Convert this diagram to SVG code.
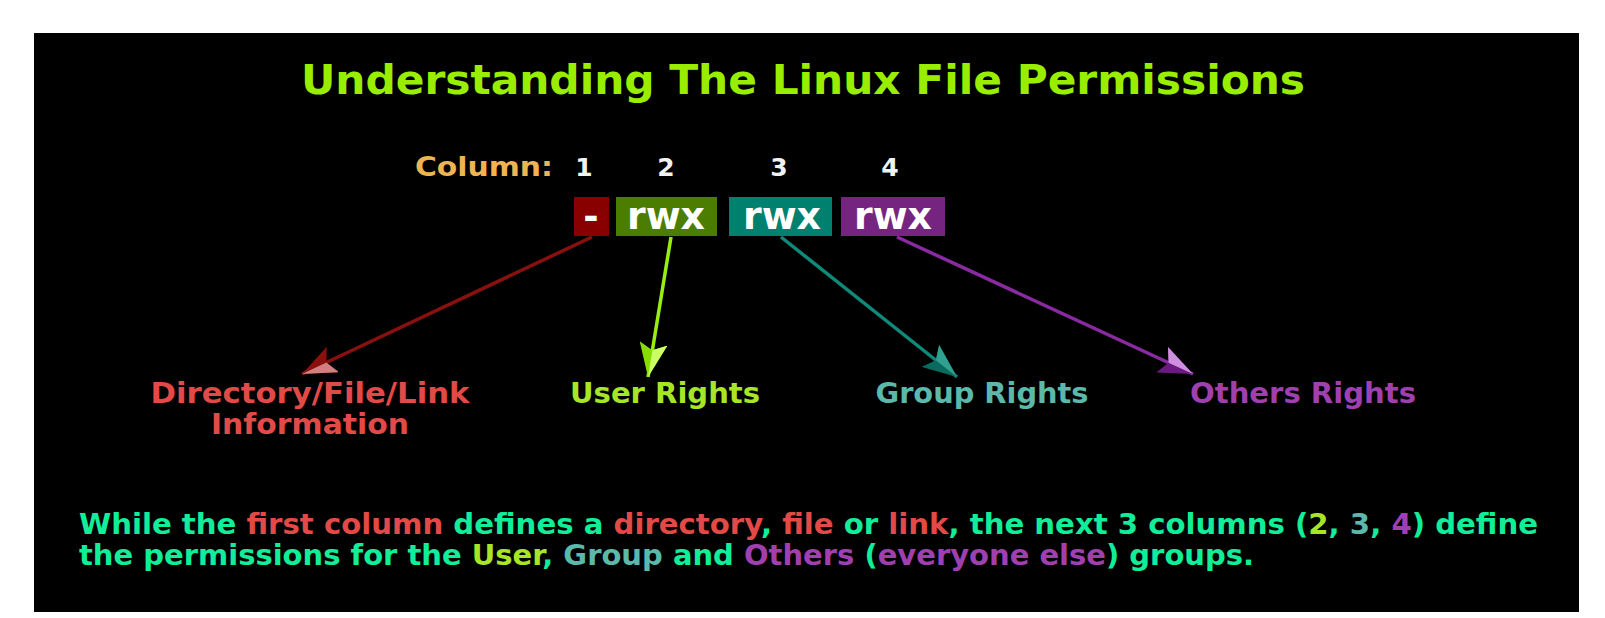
<svg xmlns="http://www.w3.org/2000/svg" width="1605" height="618" viewBox="0 0 1605 618">
<defs>
<style>
text{font-family:"DejaVu Sans","Verdana",sans-serif;font-weight:bold}
.title{font-size:41px;fill:#99ee00}
.num{font-size:25px;fill:#f2f2f2}
.box{font-size:37px;fill:#ffffff}
.lbl{font-size:29px}
.para{font-size:28px;fill:#11ee99}
.rd{fill:#e24a48}.yg{fill:#a6e626}.tl{fill:#5cb8aa}.pu{fill:#a040b0}
.conn line{stroke-width:3.5;fill:none}
</style>
<marker id="ahR" viewBox="0 0 34 28" refX="34" refY="14" markerWidth="34" markerHeight="28" markerUnits="userSpaceOnUse" orient="auto"><path d="M0,0 L34,14 L0,28 L7,14 Z" fill="#8a1010"/><path d="M0,0 L34,14 L7,14 Z" fill="#d08080"/></marker>
<marker id="ahG" viewBox="0 0 34 28" refX="34" refY="14" markerWidth="34" markerHeight="28" markerUnits="userSpaceOnUse" orient="auto"><path d="M0,0 L34,14 L0,28 L7,14 Z" fill="#88dd00"/><path d="M0,0 L34,14 L7,14 Z" fill="#ccff66"/></marker>
<marker id="ahT" viewBox="0 0 34 28" refX="34" refY="14" markerWidth="34" markerHeight="28" markerUnits="userSpaceOnUse" orient="auto"><path d="M0,0 L34,14 L0,28 L7,14 Z" fill="#0a6a5e"/><path d="M0,0 L34,14 L7,14 Z" fill="#30a090"/></marker>
<marker id="ahP" viewBox="0 0 34 28" refX="34" refY="14" markerWidth="34" markerHeight="28" markerUnits="userSpaceOnUse" orient="auto"><path d="M0,0 L34,14 L0,28 L7,14 Z" fill="#6a1a80"/><path d="M0,0 L34,14 L7,14 Z" fill="#d090e0"/></marker>
</defs>
<rect width="1605" height="618" fill="#ffffff"/>
<rect x="34" y="33" width="1545" height="579" fill="#000000"/>
<text class="title" x="803" y="94" text-anchor="middle" textLength="1004" lengthAdjust="spacingAndGlyphs">Understanding The Linux File Permissions</text>
<g id="header">
<text x="415" y="176" style="font-size:26px;fill:#efb452" textLength="138" lengthAdjust="spacingAndGlyphs">Column:</text>
<text class="num" x="584" y="176" text-anchor="middle">1</text>
<text class="num" x="666" y="176" text-anchor="middle">2</text>
<text class="num" x="779" y="176" text-anchor="middle">3</text>
<text class="num" x="890" y="176" text-anchor="middle">4</text>
</g>
<g id="col1"><rect x="574" y="197" width="35" height="39" fill="#880000"/><text class="box" x="591" y="229" text-anchor="middle">-</text></g>
<g id="col2"><rect x="616" y="197" width="101" height="39" fill="#4a7d00"/><text class="box" x="666" y="229" text-anchor="middle" textLength="78" lengthAdjust="spacingAndGlyphs">rwx</text></g>
<g id="col3"><rect x="729" y="197" width="103" height="39" fill="#00806f"/><text class="box" x="782" y="229" text-anchor="middle" textLength="78" lengthAdjust="spacingAndGlyphs">rwx</text></g>
<g id="col4"><rect x="841" y="197" width="104" height="39" fill="#75257f"/><text class="box" x="893" y="229" text-anchor="middle" textLength="78" lengthAdjust="spacingAndGlyphs">rwx</text></g>
<g class="conn" id="connectors">
<line x1="592" y1="237" x2="302" y2="374" stroke="#8a1010" marker-end="url(#ahR)"/>
<line x1="671" y1="237" x2="648" y2="377" stroke="#99ee11" marker-end="url(#ahG)"/>
<line x1="781" y1="237" x2="957" y2="377" stroke="#0f8a7a" marker-end="url(#ahT)"/>
<line x1="897" y1="237" x2="1193" y2="374" stroke="#8a2aa0" marker-end="url(#ahP)"/>
</g>
<g id="lbl1"><text class="lbl rd" x="310" y="403" text-anchor="middle" textLength="319" lengthAdjust="spacingAndGlyphs">Directory/File/Link</text><text class="lbl rd" x="310" y="434" text-anchor="middle" textLength="198" lengthAdjust="spacingAndGlyphs">Information</text></g>
<g id="lbl2"><text class="lbl yg" x="665" y="403" text-anchor="middle" textLength="190" lengthAdjust="spacingAndGlyphs">User Rights</text></g>
<g id="lbl3"><text class="lbl tl" x="982" y="403" text-anchor="middle" textLength="213" lengthAdjust="spacingAndGlyphs">Group Rights</text></g>
<g id="lbl4"><text class="lbl pu" x="1303" y="403" text-anchor="middle" textLength="226" lengthAdjust="spacingAndGlyphs">Others Rights</text></g>
<g id="note">
<text class="para" x="79" y="534" textLength="1459" lengthAdjust="spacingAndGlyphs">While the <tspan class="rd">first column</tspan> defines a <tspan class="rd">directory</tspan>, <tspan class="rd">file</tspan> or <tspan class="rd">link</tspan>, the next 3 columns (<tspan class="yg">2</tspan>, <tspan class="tl">3</tspan>, <tspan class="pu">4</tspan>) define</text>
<text class="para" x="79" y="565" textLength="1175" lengthAdjust="spacingAndGlyphs">the permissions for the <tspan class="yg">User</tspan>, <tspan class="tl">Group</tspan> and <tspan class="pu">Others</tspan> (<tspan class="pu">everyone else</tspan>) groups.</text>
</g>
</svg>
